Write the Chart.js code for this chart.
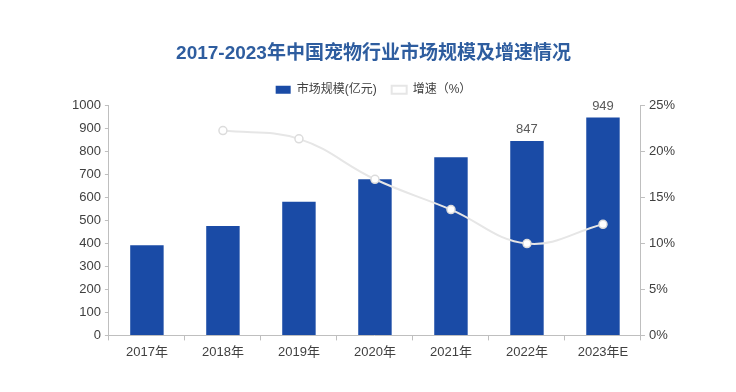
<!DOCTYPE html>
<html lang="zh">
<head>
    <meta charset="UTF-8">
    <title>2017-2023年中国宠物行业市场规模及增速情况</title>
    <script src="https://cdn.jsdelivr.net/npm/chart.js"></script>
    <style>
        html, body { margin: 0; padding: 0; background: #fff; }
        #wrap { width: 736px; height: 392px; }
    </style>
</head>
<body>
    <div id="wrap"><canvas id="chart" width="736" height="392"></canvas></div>

    <script>
        // data
        var years = ["2017年", "2018年", "2019年", "2020年", "2021年", "2022年", "2023年E"];
        var marketSize = [393, 477, 582, 680, 776, 847, 949];
        var growth = [null, 22.3, 21.4, 17.0, 13.7, 10.0, 12.1];
        var labelledYears = ["2022年", "2023年E"];

        var FONT = "'Liberation Sans', 'Noto Sans CJK SC', sans-serif";

        // values above the last two bars
        var barValues = {
            id: 'barValues',
            afterDatasetsDraw(chart) {
                var ctx = chart.ctx;
                var meta = chart.getDatasetMeta(1); // bar dataset
                ctx.save();
                ctx.font = "13px " + FONT;
                ctx.fillStyle = "#595959";
                ctx.textAlign = "center";
                ctx.textBaseline = "bottom";
                years.forEach(function (y, i) {
                    if (labelledYears.indexOf(y) < 0) return;
                    var bar = meta.data[i];
                    ctx.fillText(marketSize[i], bar.x, bar.y - 5);
                });
                ctx.restore();
            }
        };

        new Chart(document.getElementById('chart'), {
            data: {
                labels: years,
                datasets: [
                    {
                        type: 'line',
                        label: '增速（%）',
                        data: growth,
                        yAxisID: 'y1',
                        borderColor: '#e6e6e6',
                        backgroundColor: '#ffffff',
                        borderWidth: 2,
                        tension: 0.4,
                        pointRadius: 4,
                        pointBorderWidth: 1.5,
                        pointBorderColor: '#dcdcdc',
                        pointBackgroundColor: '#ffffff',
                        order: 0
                    },
                    {
                        type: 'bar',
                        label: '市场规模(亿元)',
                        data: marketSize,
                        yAxisID: 'y',
                        backgroundColor: '#1a4ba6',
                        barPercentage: 0.44,
                        categoryPercentage: 1,
                        order: 1
                    }
                ]
            },
            options: {
                responsive: false,
                animation: false,
                layout: { padding: { left: 68, right: 57, top: 36, bottom: 28 } },
                plugins: {
                    title: {
                        display: true,
                        text: '2017-2023年中国宠物行业市场规模及增速情况',
                        color: '#2e5d9f',
                        font: { family: FONT, size: 19, weight: 'bold' },
                        padding: { top: 6, bottom: 4 }
                    },
                    legend: {
                        display: true,
                        reverse: true,
                        labels: {
                            color: '#404040',
                            font: { family: FONT, size: 12 },
                            boxWidth: 15,
                            boxHeight: 8,
                            padding: 15
                        }
                    },
                    tooltip: { enabled: false }
                },
                scales: {
                    x: {
                        offset: true,
                        grid: {
                            display: true,
                            offset: true,
                            drawOnChartArea: false,
                            tickLength: 5,
                            color: '#bfbfbf'
                        },
                        border: { color: '#bfbfbf' },
                        ticks: { color: '#404040', font: { family: FONT, size: 13 }, padding: 4 }
                    },
                    y: {
                        position: 'left',
                        min: 0,
                        max: 1000,
                        ticks: {
                            stepSize: 100,
                            color: '#404040',
                            font: { family: FONT, size: 13, lineHeight: 1 },
                            padding: 4,
                            callback: function (v) { return String(v); }
                        },
                        grid: { drawOnChartArea: false, tickLength: 4, color: '#bfbfbf' },
                        border: { color: '#bfbfbf' }
                    },
                    y1: {
                        position: 'right',
                        min: 0,
                        max: 25,
                        ticks: {
                            stepSize: 5,
                            color: '#404040',
                            font: { family: FONT, size: 13, lineHeight: 1 },
                            padding: 4,
                            callback: function (v) { return v + '%'; }
                        },
                        grid: { drawOnChartArea: false, tickLength: 4, color: '#bfbfbf' },
                        border: { color: '#bfbfbf' }
                    }
                }
            },
            plugins: [barValues]
        });
    </script>
</body>
</html>
